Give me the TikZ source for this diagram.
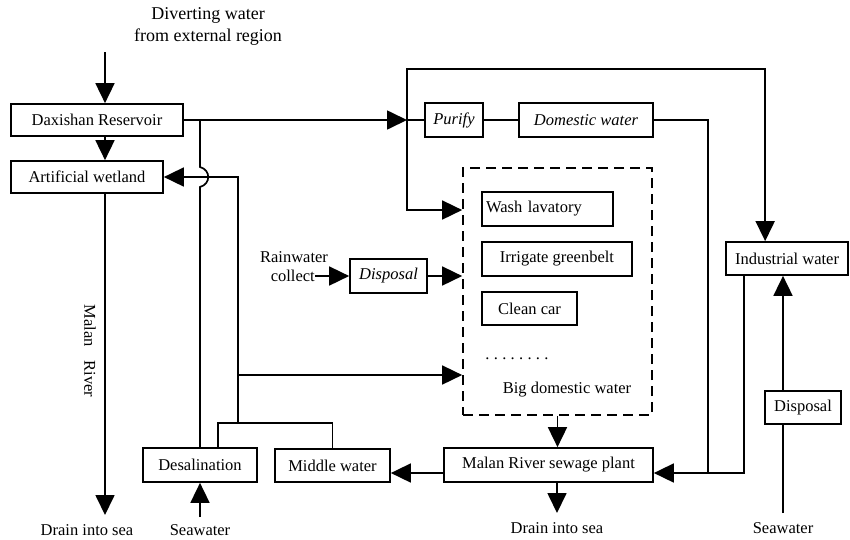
\documentclass[tikz,border=0pt]{standalone}
\usepackage{fontspec}
\setmainfont{Liberation Serif}
\usetikzlibrary{arrows.meta}
\begin{document}
\begin{tikzpicture}[x=1pt,y=-1pt,
  box/.style={draw, line width=1.7pt, inner sep=0pt, font=\fontsize{16.5}{19}\selectfont},
  lbl/.style={inner sep=0pt, font=\fontsize{16.5}{19}\selectfont},
  ln/.style={line width=1.7pt},
  arr/.style={line width=1.7pt, -{Triangle[length=20pt,width=19pt]}},
]
\useasboundingbox (0,0) rectangle (850,539);

% boxes
\node[box, minimum width=172pt, minimum height=32pt] (dax) at (97,120) {Daxishan Reservoir};
\node[box, minimum width=152pt, minimum height=32pt] (wet) at (87,177) {Artificial wetland};
\node[box, minimum width=58pt, minimum height=34pt] (purify) at (454,120) {\itshape Purify};
\node[box, minimum width=134pt, minimum height=34pt] (dom) at (586,120) {\itshape Domestic water};
\node[box, minimum width=122pt, minimum height=33pt] (ind) at (787,258.5) {Industrial water};
\node[draw, line width=1.7pt, dash pattern=on 10pt off 6pt, minimum width=189pt, minimum height=247pt, inner sep=0pt] (dash) at (557.5,291.5) {};
\node[box, minimum width=131pt, minimum height=34pt, text width=123pt, align=left] (wash) at (547.5,209) {Wash lavatory};
\node[box, minimum width=150pt, minimum height=34pt] (irr) at (557,259) {Irrigate greenbelt};
\node[box, minimum width=95pt, minimum height=33pt] (cc) at (529.5,308.5) {Clean car};
\node[lbl] (dots) at (517,359) {.\hspace{4.3pt}.\hspace{4.3pt}.\hspace{4.3pt}.\hspace{4.3pt}.\hspace{4.3pt}.\hspace{4.3pt}.\hspace{4.3pt}.};
\node[lbl] (big) at (567,390) {Big domestic water};
\node[box, minimum width=209pt, minimum height=34pt] (sew) at (548.5,465) {Malan River sewage plant};
\node[box, minimum width=115pt, minimum height=33pt] (mid) at (332.5,465.5) {Middle water};
\node[box, minimum width=114pt, minimum height=34pt] (desal) at (200,465) {Desalination};
\node[box, minimum width=77pt, minimum height=34pt] (disp1) at (388.5,276) {\itshape Disposal};
\node[box, minimum width=76pt, minimum height=33pt] (disp2) at (803,407.5) {Disposal};

% texts
\node[lbl, align=center, font=\fontsize{18}{22}\selectfont] (divert) at (208,26) {Diverting water\\from external region};
\node[lbl] (rainw) at (294,257) {Rainwater};
\node[lbl, anchor=east] (collect) at (315,276) {collect};
\node[lbl, rotate=-90] (mr) at (90,351) {Malan\hspace{14pt}River};
\node[lbl] (drain1) at (87,530) {Drain into sea};
\node[lbl] (sea1) at (200,530) {Seawater};
\node[lbl] (drain2) at (557,528) {Drain into sea};
\node[lbl] (sea2) at (783,528) {Seawater};

% coordinates
\coordinate (src) at (105,52);
\coordinate (j1) at (407,120);
\coordinate (t1) at (407,69);
\coordinate (d1) at (407,210);
\coordinate (r1) at (708,120);
\coordinate (r2) at (708,473);
\coordinate (b0) at (200,120);
\coordinate (b1) at (200,167);
\coordinate (b2) at (200,187);
\coordinate (m1) at (238,424);
\coordinate (m2) at (238,375);
\coordinate (o1) at (105,515);
\coordinate (o2) at (557,513);
\coordinate (sw1) at (200,517);
\coordinate (sw2) at (783,513);

% connectors
\draw[arr] (src) -- (src |- dax.north);
\draw[arr] (src |- dax.south) -- (src |- wet.north);
\draw[arr] (dax.east) -- (j1);
\draw[ln] (j1) -- (purify.west);
\draw[ln] (purify.east) -- (dom.west);
\draw[ln] (dom.east) -- (r1) -- (r2);
\draw[arr] ([xshift=19pt]ind.south west) |- (sew.east |- r2);
\draw[arr] (j1) -- (t1) -| ([xshift=40pt]ind.north west);
\draw[arr] (j1) -- (d1) -- (dash.west |- d1);
\draw[ln] (b0) -- (b1) .. controls (211,170) and (211,184) .. (b2) -- (desal.north);
\draw[ln] ([xshift=18pt]desal.north) -- ++(0,-24) -| (mid.north);
\draw[arr] (m1) |- (wet.east);
\draw[arr] (m2) -- (dash.west |- m2);
\draw[arr] (collect.east) -- (disp1.west);
\draw[arr] (disp1.east) -- (dash.west |- disp1.east);
\draw[arr] (dash.south) -- (dash.south |- sew.north);
\draw[arr] (o2 |- sew.south) -- (o2);
\draw[arr] ([yshift=-8pt]sew.west) -- ([yshift=-8pt]sew.west -| mid.east);
\draw[arr] (sw1) -- (desal.south);
\draw[arr] (src |- wet.south) -- (o1);
\draw[ln] (sw2) -- (sw2 |- disp2.south);
\draw[arr] (sw2 |- disp2.north) -- (sw2 |- ind.south);
\end{tikzpicture}
\end{document}
